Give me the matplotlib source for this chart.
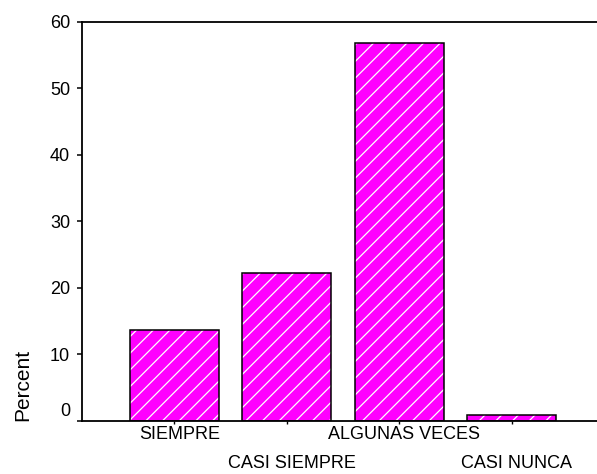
import matplotlib
matplotlib.use("Agg")
import matplotlib.pyplot as plt
from matplotlib.transforms import ScaledTranslation

# categories and percent values
categories = ["SIEMPRE", "CASI SIEMPRE", "ALGUNAS VECES", "CASI NUNCA"]
percents = [13.6, 22.2, 56.7, 0.9]
yticks = [0, 10, 20, 30, 40, 50, 60]

plt.rcParams["font.family"] = ["Liberation Sans", "DejaVu Sans"]
plt.rcParams["hatch.linewidth"] = 0.9

fig = plt.figure(figsize=(5.97, 4.74), dpi=100)
ax = fig.add_axes([82 / 597, 1 - 420.7 / 474, 1 - 82 / 597, (420.7 - 21.5) / 474])

pos = list(range(len(categories)))
# fill + white hatch, then black outline on top
ax.bar(pos, percents, width=0.79, color="#ff00ff", edgecolor="white",
       hatch="//", linewidth=0)
ax.bar(pos, percents, width=0.79, fill=False, edgecolor="black", linewidth=1.1)

ax.set_xlim(-0.82, 3.76)
ax.set_ylim(0, 60)
ax.set_yticks(yticks)

# staggered category labels: even ones as major ticks, odd ones as minor
ax.set_xticks(pos[0::2])
ax.set_xticklabels(categories[0::2])
ax.set_xticks(pos[1::2], minor=True)
ax.set_xticklabels(categories[1::2], minor=True)

ax.tick_params(axis="x", which="both", direction="out", length=2.5, width=1.0,
               labelsize=13)
ax.tick_params(axis="x", which="major", pad=1)
ax.tick_params(axis="x", which="minor", pad=22)
ax.tick_params(axis="y", direction="out", length=3.6, width=1.1, pad=5,
               labelsize=13)

for sp in ["left", "top", "bottom"]:
    ax.spines[sp].set_linewidth(1.3)
ax.spines["right"].set_visible(False)

# small nudges to mimic the original rendering
shift_x = ScaledTranslation(0.05, 0, fig.dpi_scale_trans)
for t in ax.xaxis.get_major_ticks() + ax.xaxis.get_minor_ticks():
    t.label1.set_transform(t.label1.get_transform() + shift_x)
yt = ax.yaxis.get_major_ticks()
yt[0].label1.set_transform(yt[0].label1.get_transform()
                           + ScaledTranslation(0, 0.11, fig.dpi_scale_trans))

ax.set_ylabel("Percent", fontsize=15, loc="bottom")
ax.yaxis.set_label_coords(-0.097, 0)

fig.savefig("out.png", dpi=100)
